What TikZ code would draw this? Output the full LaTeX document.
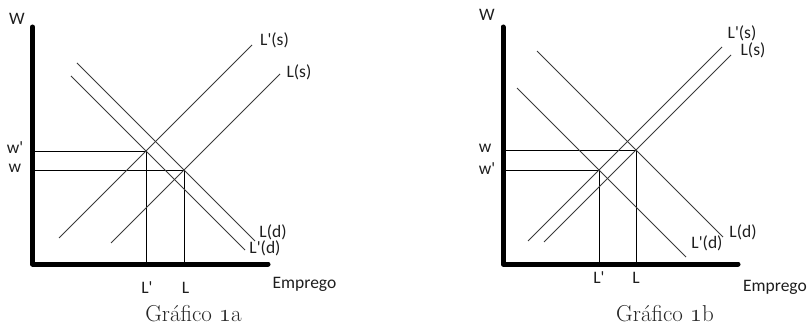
\documentclass[tikz,border=0pt]{standalone}
\usepackage{fontspec}
\newfontfamily\labfont{Carlito}
\newcommand\myap{\textquotesingle}
\definecolor{curvecol}{HTML}{3A3A3A}
\definecolor{labcol}{HTML}{1E1E1E}
\definecolor{capcol}{HTML}{262626}
\begin{document}
\begin{tikzpicture}[x=1pt,y=-1pt,
  axis/.style={line width=5pt, line cap=round, line join=round, draw=black},
  curve/.style={draw=curvecol, line width=0.9pt},
  guide/.style={draw=black, line width=0.9pt},
  lab/.style={font=\labfont\fontsize{17.5}{20}\selectfont, text=labcol, inner sep=0pt},
  capt/.style={font=\fontsize{23}{27}\selectfont, text=capcol, inner sep=0pt, anchor=base}]
\useasboundingbox (0,0) rectangle (809,326);
% ---------------- Grafico 1a ----------------
\coordinate (aO) at (32.5,264);
\coordinate (aYt) at (32.5,27);
\coordinate (aXr) at (268,264);
\coordinate (aLps1) at (59,238);  \coordinate (aLps2) at (252,45);
\coordinate (aLs1) at (111,243);  \coordinate (aLs2) at (280,74);
\coordinate (aLd1) at (77,63);    \coordinate (aLd2) at (255,241);
\coordinate (aLpd1) at (71,76);   \coordinate (aLpd2) at (245,250);
\coordinate (aEp) at (146,151);
\coordinate (aE) at (184,170);
\draw[guide] (aEp -| aO) -- (aEp) -- (aEp |- aO);
\draw[guide] (aE -| aO) -- (aE) -- (aE |- aO);
\draw[curve] (aLps1) -- (aLps2);
\draw[curve] (aLs1) -- (aLs2);
\draw[curve] (aLd1) -- (aLd2);
\draw[curve] (aLpd1) -- (aLpd2);
\draw[axis] (aYt) -- (aO) -- (aXr);
\node[lab, anchor=base] (aW) at (17,25) {W};
\node[lab] (aLpsl) at (274.5,40) {L\myap(s)};
\node[lab] (aLsl) at (299,72) {L(s)};
\node[lab] (aLdl) at (273,232) {L(d)};
\node[lab] (aLpdl) at (265,248) {L\myap(d)};
\node[lab, anchor=base] (awp) at (15,154) {w\myap};
\node[lab, anchor=base] (aw) at (15,172) {w};
\node[lab, anchor=base] (aLp) at (147,293) {L\myap};
\node[lab, anchor=base] (aL) at (185.5,293) {L};
\node[lab, anchor=base] (aEmp) at (304.5,288) {Emprego};
\node[capt] (acap) at (193.5,321.5) {Gráfico {\usefont{OML}{cmm}{m}{it}1}a};
% ---------------- Grafico 1b ----------------
\coordinate (bO) at (503,264);
\coordinate (bYt) at (503,27);
\coordinate (bXr) at (738,264);
\coordinate (bLps1) at (528,241); \coordinate (bLps2) at (722,47);
\coordinate (bLs1) at (544,242);  \coordinate (bLs2) at (731,55);
\coordinate (bLd1) at (537,51);   \coordinate (bLd2) at (723,237);
\coordinate (bLpd1) at (517,88);  \coordinate (bLpd2) at (686,257);
\coordinate (bE) at (636,150);
\coordinate (bEp) at (599,170);
\draw[guide] (bE -| bO) -- (bE) -- (bE |- bO);
\draw[guide] (bEp -| bO) -- (bEp) -- (bEp |- bO);
\draw[curve] (bLps1) -- (bLps2);
\draw[curve] (bLs1) -- (bLs2);
\draw[curve] (bLd1) -- (bLd2);
\draw[curve] (bLpd1) -- (bLpd2);
\draw[axis] (bYt) -- (bO) -- (bXr);
\node[lab, anchor=base] (bW) at (487,21) {W};
\node[lab] (bLpsl) at (742,33) {L\myap(s)};
\node[lab] (bLsl) at (753,50) {L(s)};
\node[lab] (bLdl) at (743,232) {L(d)};
\node[lab] (bLpdl) at (707,243) {L\myap(d)};
\node[lab, anchor=base] (bw) at (485,153) {w};
\node[lab, anchor=base] (bwp) at (487,175) {w\myap};
\node[lab, anchor=base] (bLp) at (599,283) {L\myap};
\node[lab, anchor=base] (bL) at (636,283) {L};
\node[lab, anchor=base] (bEmp) at (775,291) {Emprego};
\node[capt] (bcap) at (665,321.5) {Gráfico {\usefont{OML}{cmm}{m}{it}1}b};
\end{tikzpicture}
\end{document}
